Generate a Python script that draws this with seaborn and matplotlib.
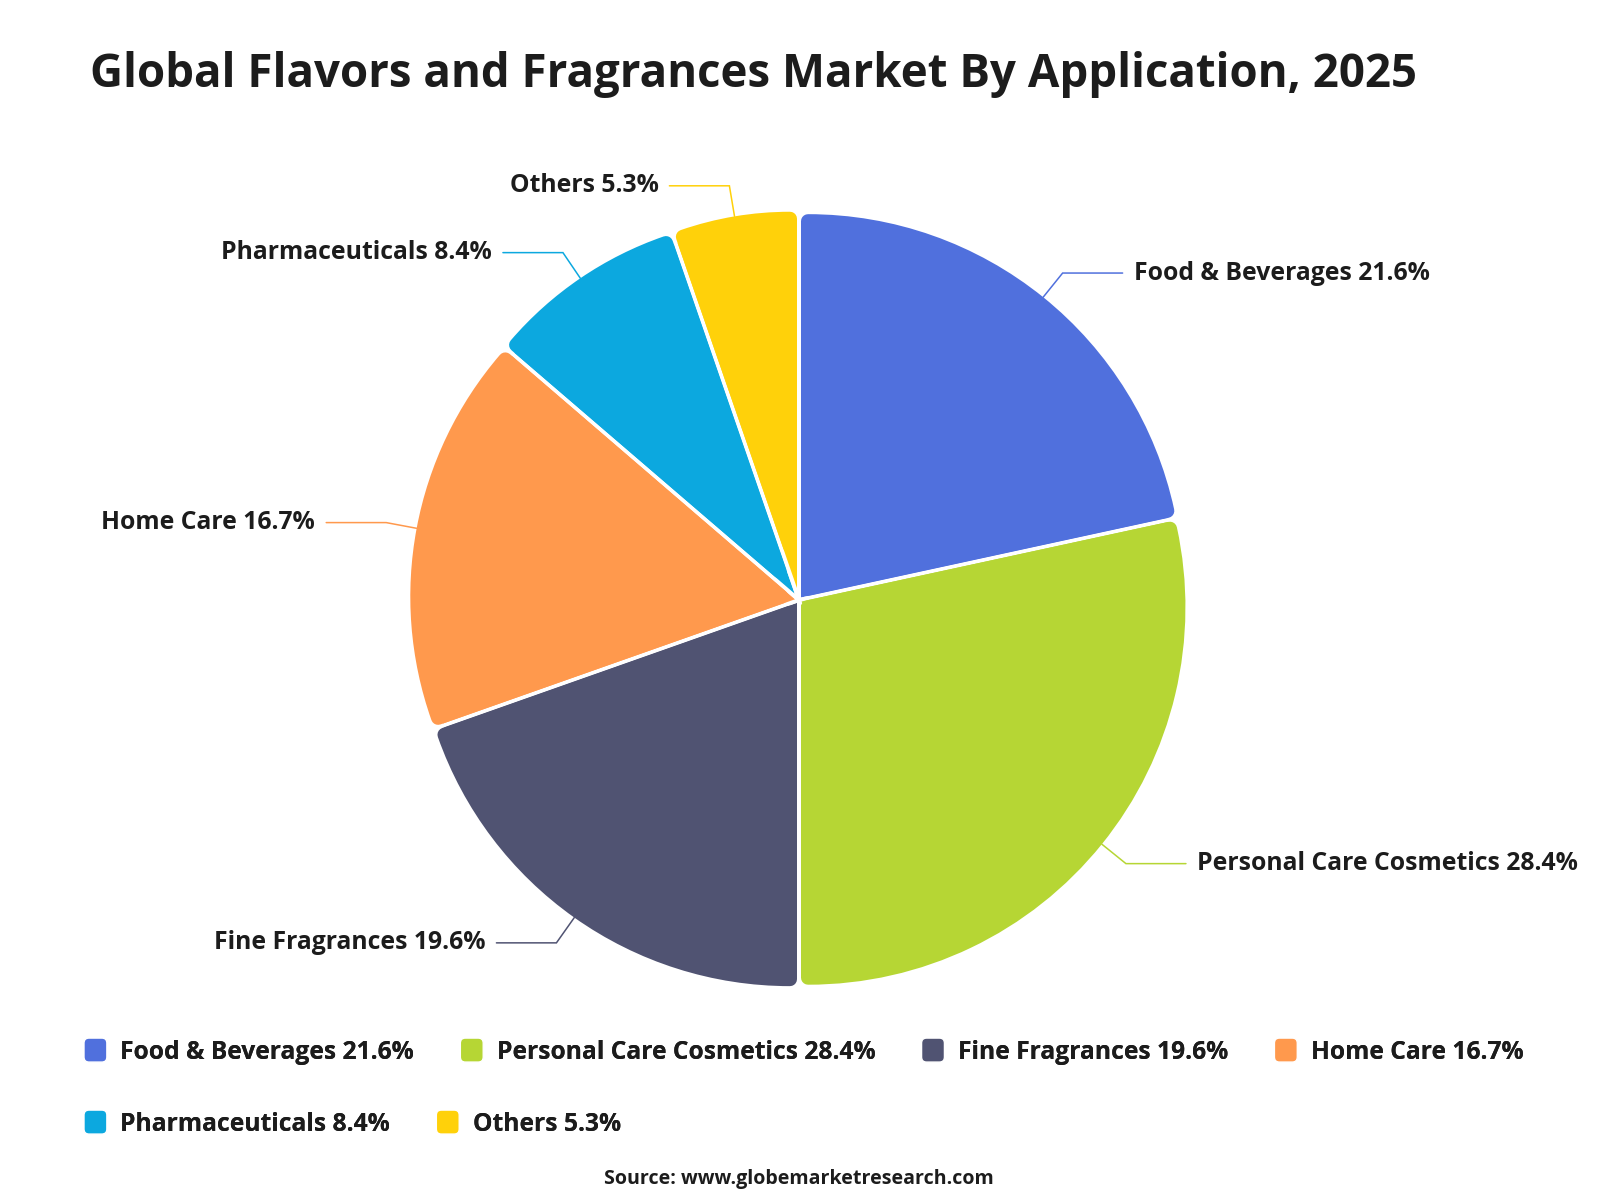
import numpy as np
import matplotlib.pyplot as plt
import seaborn as sns
from matplotlib.patches import Patch, FancyBboxPatch
from matplotlib.legend_handler import HandlerPatch

# ---------------------------
# data
# ---------------------------
categories = ['Food & Beverages', 'Personal Care Cosmetics', 'Fine Fragrances',
              'Home Care', 'Pharmaceuticals', 'Others']
shares = [21.6, 28.4, 19.6, 16.7, 8.4, 5.3]
colors = ['#5070dd', '#b6d634', '#505372', '#ff994d', '#0ca8df', '#ffd10a']
labels = [f'{c} {v}%' for c, v in zip(categories, shares)]

title = 'Global Flavors and Fragrances Market By Application, 2025'
source = 'Source: www.globemarketresearch.com'

# ---------------------------
# style
# ---------------------------
sns.set_theme(style='white')
plt.rcParams['font.family'] = ['Open Sans', 'DejaVu Sans']
text_color = '#1c1c1c'
lab_size = 17.8
leg_size = 17.7

W, H = 1600, 1200
fig = plt.figure(figsize=(16, 12), dpi=100)
fig.patch.set_facecolor('white')

# pie geometry in pixels
R = 389.0
cx, cy = 799.0, 600.0
gap = 4.0      # white gap between slices
rad = 7.0      # corner radius
px2pt = 72.0 / 100.0
t = rad + gap / 2

ax = fig.add_axes([(cx - R) / W, (cy - R) / H, 2 * R / W, 2 * R / H])

# layer A: sharp pie, keeps the tips pointed at the centre
ax.pie(shares, colors=colors, startangle=90, counterclock=False,
       radius=(R - t - 1) / R,
       wedgeprops=dict(edgecolor='white', linewidth=gap * px2pt))

# layer B: inset wedges stroked with round joins -> rounded outer corners
wedges_b = ax.pie(shares, colors=colors, startangle=90, counterclock=False,
                  radius=1.0,
                  wedgeprops=dict(linewidth=2 * rad * px2pt, joinstyle='round'))[0]
for w in wedges_b:
    half = np.radians((w.theta2 - w.theta1) / 2)
    mid = np.radians((w.theta1 + w.theta2) / 2)
    s = t / np.sin(half) / R
    w.set_center((s * np.cos(mid), s * np.sin(mid)))
    w.set_radius(1 - rad / R - s)
    w.set_edgecolor(w.get_facecolor())
    w.set_zorder(3)

# leader lines and labels
r1 = 420 / R
hlen = 60 / R
tpad = 11 / R
for w, lab, col in zip(wedges_b, labels, colors):
    mid = np.radians((w.theta1 + w.theta2) / 2)
    x0, y0 = np.cos(mid), np.sin(mid)
    x1, y1 = r1 * np.cos(mid), r1 * np.sin(mid)
    sgn = 1 if np.cos(mid) >= 0 else -1
    x2 = x1 + sgn * hlen
    ax.plot([x0, x1, x2], [y0, y1, y1], color=col, lw=1.1,
            clip_on=False, zorder=4, solid_joinstyle='miter')
    ax.text(x2 + sgn * tpad, y1, lab, ha='left' if sgn > 0 else 'right',
            va='center', fontsize=lab_size, fontweight='bold', color=text_color,
            clip_on=False)

ax.set_xlim(-1, 1)
ax.set_ylim(-1, 1)
ax.axis('off')

# title and source
fig.text(90 / W, 1 - 87 / H, title, ha='left', va='baseline',
         fontsize=32.9, fontweight='bold', color=text_color)
fig.text(cx / W, 1 - 1179 / H, source, ha='center', va='center',
         fontsize=14.1, fontweight='bold', color=text_color)


# legend with rounded colour boxes
def make_box(legend, orig_handle, xdescent, ydescent, width, height, fontsize):
    return FancyBboxPatch((-xdescent, -ydescent - 1), width, height + 2,
                          boxstyle=f'round,pad=0,rounding_size={0.22 * width}',
                          facecolor=orig_handle.get_facecolor(), edgecolor='none')


handles = [Patch(facecolor=c, label=l) for c, l in zip(colors, labels)]
rows = [(handles[:4], 1 - 1052 / H), (handles[4:], 1 - 1124 / H)]
for hs, yy in rows:
    leg = fig.legend(handles=hs, loc='center left', bbox_to_anchor=(84 / W, yy),
                     ncol=len(hs), frameon=False, borderpad=0, borderaxespad=0,
                     prop=dict(size=leg_size, weight='bold'),
                     handlelength=0.93, handleheight=0.95, handletextpad=0.55,
                     columnspacing=1.88,
                     handler_map={Patch: HandlerPatch(patch_func=make_box)})
    for txt in leg.get_texts():
        txt.set_color(text_color)
    fig.add_artist(leg)

fig.savefig('out.png', dpi=100, facecolor='white')
